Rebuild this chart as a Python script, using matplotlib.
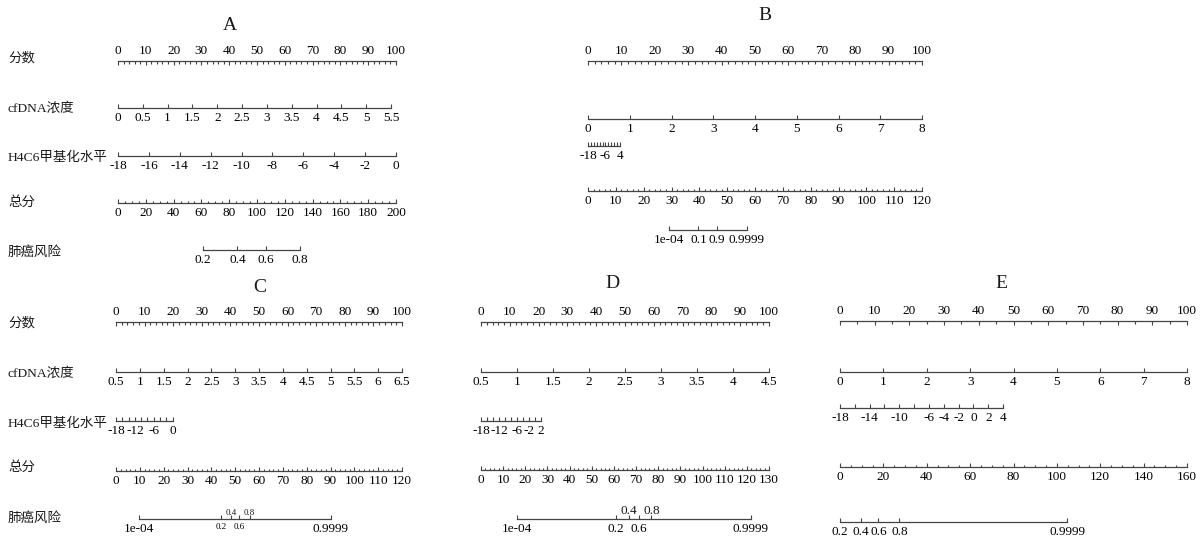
import matplotlib.pyplot as plt
from matplotlib.ticker import MultipleLocator, NullLocator

plt.rcParams['font.family'] = ['Liberation Serif', 'Noto Sans CJK SC']
plt.rcParams['text.color'] = '#1a1a1a'

W, H = 1203, 542
LINE = '#444444'

row_names = ['分数', 'cfDNA浓度', 'H4C6甲基化水平', '总分', '肺癌风险']

# 分数 scale (same in every panel)
points_labels = [0, 10, 20, 30, 40, 50, 60, 70, 80, 90, 100]
points_minor = {'A': 2, 'B': 2, 'C': 2, 'D': 2, 'E': 5}

# cfDNA浓度 scales and the points reached at their right end
cfdna = {
    'A': [0, 0.5, 1, 1.5, 2, 2.5, 3, 3.5, 4, 4.5, 5, 5.5],
    'B': [0, 1, 2, 3, 4, 5, 6, 7, 8],
    'C': [0.5, 1, 1.5, 2, 2.5, 3, 3.5, 4, 4.5, 5, 5.5, 6, 6.5],
    'D': [0.5, 1, 1.5, 2, 2.5, 3, 3.5, 4, 4.5],
    'E': [0, 1, 2, 3, 4, 5, 6, 7, 8],
}
cfdna_pts = {'A': 98.2, 'B': 100, 'C': 100, 'D': 100, 'E': 100}

# H4C6甲基化水平 scales: tick values, printed values, points at right end
h4c6_ticks = {
    'A': [-18, -16, -14, -12, -10, -8, -6, -4, -2, 0],
    'B': [-18, -16, -14, -12, -10, -8, -6, -4, -2, 0, 2, 4],
    'C': [-18, -16, -14, -12, -10, -8, -6, -4, -2, 0],
    'D': [-18, -16, -14, -12, -10, -8, -6, -4, -2, 0, 2],
    'E': [-18, -16, -14, -12, -10, -8, -6, -4, -2, 0, 2, 4],
}
h4c6_labels = {
    'A': [-18, -16, -14, -12, -10, -8, -6, -4, -2, 0],
    'B': [-18, -6, 4],
    'C': [-18, -12, -6, 0],
    'D': [-18, -12, -6, -2, 2],
    'E': [-18, -14, -10, -6, -4, -2, 0, 2, 4],
}
h4c6_pts = {'A': 100, 'B': 9.6, 'C': 19.8, 'D': 20.8, 'E': 47.0}

# 总分 scales
total_labels = {
    'A': [0, 20, 40, 60, 80, 100, 120, 140, 160, 180, 200],
    'B': [0, 10, 20, 30, 40, 50, 60, 70, 80, 90, 100, 110, 120],
    'C': [0, 10, 20, 30, 40, 50, 60, 70, 80, 90, 100, 110, 120],
    'D': [0, 10, 20, 30, 40, 50, 60, 70, 80, 90, 100, 110, 120, 130],
    'E': [0, 20, 40, 60, 80, 100, 120, 140, 160],
}
total_minor = {'A': 5, 'B': 2, 'C': 2, 'D': 2, 'E': 5}

# 肺癌风险 scales: probabilities, and total points at the first / last one
risk = {
    'A': [0.2, 0.4, 0.6, 0.8],
    'B': [1e-4, 0.1, 0.9, 0.9999],
    'C': [1e-4, 0.2, 0.4, 0.6, 0.8, 0.9999],
    'D': [1e-4, 0.2, 0.4, 0.6, 0.8, 0.9999],
    'E': [0.2, 0.4, 0.6, 0.8, 0.9999],
}
risk_span = {'A': (61.2, 130.9), 'B': (29.0, 57.1), 'C': (9.8, 90.2),
             'D': (16.1, 121.8), 'E': (0.0, 104.8)}
risk_above = {'C': [0.4, 0.8], 'D': [0.4, 0.8]}
risk_small = {'C': [0.2, 0.4, 0.6, 0.8]}

# panel placement in pixels
panels = {
    'A': dict(x0=118, x1=396, title=(230, 25), rows=[61, 108, 156, 203, 250],
              names=[58, 108, 158, 202, 252]),
    'B': dict(x0=588, x1=922, title=(765, 15), rows=[61, 119, 146, 191, 230]),
    'C': dict(x0=116, x1=402, title=(260, 287), rows=[322, 372, 421, 471, 519],
              names=[323, 373, 424, 467, 518]),
    'D': dict(x0=481, x1=769, title=(612, 283), rows=[322, 372, 421, 470, 519]),
    'E': dict(x0=840, x1=1187, title=(1001, 284), rows=[321, 372, 408, 467, 522]),
}

fig = plt.figure(figsize=(W / 100, H / 100), dpi=100)


def fmt(v):
    if v < 0.001 and v > 0:
        return '1e-04'
    return f'{v:g}'


def row_axes(left, right, y, top=False):
    ax = fig.add_axes([left / W, 1 - y / H, (right - left) / W, 1e-5])
    for s in ax.spines.values():
        s.set_visible(False)
    side = 'top' if top else 'bottom'
    ax.spines[side].set_visible(True)
    ax.spines[side].set_color(LINE)
    ax.spines[side].set_linewidth(0.9)
    ax.set_yticks([])
    ax.patch.set_visible(False)
    if top:
        ax.xaxis.tick_top()
    ax.tick_params(axis='x', which='both', direction='in', color=LINE,
                   width=0.8, labelsize=9.5, pad=3)
    ax.tick_params(axis='x', which='major', length=3)
    ax.tick_params(axis='x', which='minor', length=1.8)
    return ax


for key, p in panels.items():
    x0, x1 = p['x0'], p['x1']
    span = x1 - x0
    ys = p['rows']

    fig.text(p['title'][0] / W, 1 - p['title'][1] / H, key, fontsize=14,
             ha='center', va='center')

    if 'names' in p:
        for name, ny in zip(row_names, p['names']):
            fig.text(8 / W, 1 - ny / H, name, fontsize=9.7, ha='left', va='center')

    # 分数
    ax = row_axes(x0, x1, ys[0], top=True)
    ax.set_xlim(points_labels[0], points_labels[-1])
    ax.set_xticks(points_labels)
    ax.xaxis.set_minor_locator(MultipleLocator(points_minor[key]))

    # cfDNA浓度
    vals = cfdna[key]
    ax = row_axes(x0, x0 + span * cfdna_pts[key] / 100, ys[1])
    ax.set_xlim(vals[0], vals[-1])
    ax.set_xticks(vals, labels=[fmt(v) for v in vals])

    # H4C6甲基化水平
    ticks = h4c6_ticks[key]
    ax = row_axes(x0, x0 + span * h4c6_pts[key] / 100, ys[2])
    ax.set_xlim(ticks[0], ticks[-1])
    ax.set_xticks(ticks, labels=[str(t) if t in h4c6_labels[key] else ''
                                 for t in ticks])

    # 总分
    tl = total_labels[key]
    ax = row_axes(x0, x1, ys[3])
    ax.set_xlim(tl[0], tl[-1])
    ax.set_xticks(tl)
    ax.xaxis.set_minor_locator(MultipleLocator(total_minor[key]))

    # 肺癌风险 on a logit scale
    pr = risk[key]
    lo, hi = risk_span[key]
    tmax = tl[-1]
    ax = row_axes(x0 + span * lo / tmax, x0 + span * hi / tmax, ys[4])
    ax.set_xscale('logit')
    ax.set_xlim(pr[0], pr[-1])
    above = risk_above.get(key, [])
    small = risk_small.get(key, [])
    ax.set_xticks(pr, labels=['' if v in above else fmt(v) for v in pr])
    ax.xaxis.set_minor_locator(NullLocator())
    for v, lab in zip(pr, ax.xaxis.get_ticklabels()):
        if v in small:
            lab.set_fontsize(6.5)
    for v in above:
        ax.annotate(fmt(v), xy=(v, 1), xycoords=ax.get_xaxis_transform(),
                    xytext=(0, 1.5), textcoords='offset points',
                    ha='center', va='bottom',
                    fontsize=6.5 if v in small else 9.5)

fig.savefig('out.png', dpi=100)
